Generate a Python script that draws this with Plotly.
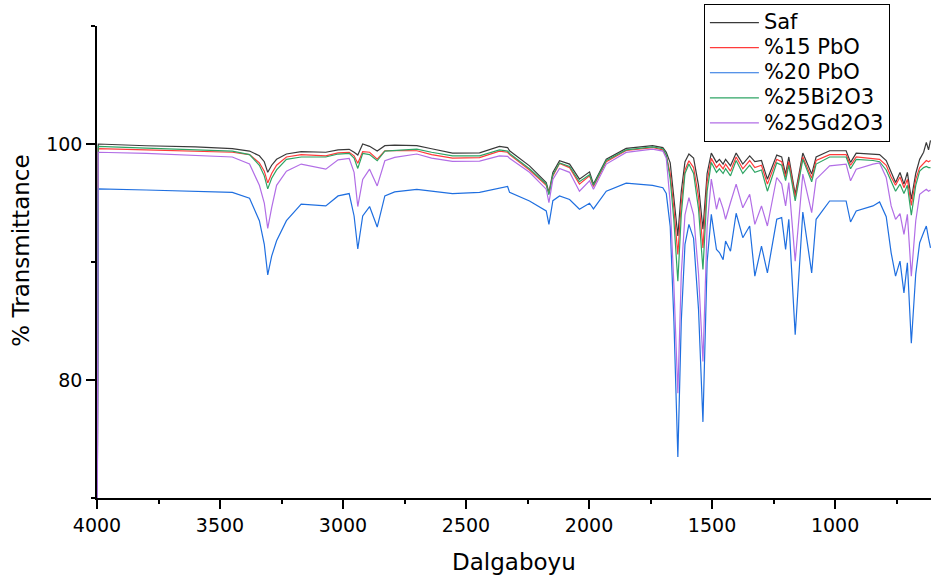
import plotly.graph_objects as go

wavenumber = [4000, 3995, 3800, 3600, 3450, 3380, 3340, 3320, 3306, 3290, 3270, 3230, 3170, 3070, 3020, 2975,
              2955, 2940, 2920, 2892, 2861, 2830, 2790, 2700, 2640, 2555, 2445, 2364, 2331, 2323,
              2242, 2174, 2163, 2147, 2120, 2079, 2039, 1998, 1982, 1930, 1849, 1742, 1700, 1686,
              1670, 1655, 1639, 1625, 1610, 1594, 1575, 1555, 1537, 1520, 1503, 1482, 1470, 1455,
              1445, 1425, 1402, 1375, 1347, 1326, 1299, 1275, 1237, 1217, 1201, 1188, 1162, 1131,
              1095, 1077, 1022, 955, 937, 914, 846, 819, 792, 772, 754, 736, 720, 706, 690, 672,
              656, 640, 629, 620, 612]

saf = [60, 100.0, 99.85, 99.75, 99.6, 99.4, 99.0, 98.5, 97.6, 98.2, 98.7, 99.15, 99.35, 99.3, 99.5, 99.55,
       99.3, 99.06, 100.0, 99.8, 99.4, 99.86, 99.9, 99.86, 99.6, 99.23, 99.25, 99.8, 99.7, 99.43,
       98.15, 96.74, 95.89, 97.59, 98.58, 98.3, 97.02, 97.64, 96.6, 98.72, 99.63, 99.86, 99.7, 99.3,
       98.4, 95.5, 92.2, 96.0, 98.5, 99.15, 98.8, 96.5, 92.77, 97.5, 99.23, 98.44, 98.7, 98.3,
       98.7, 98.15, 99.23, 98.3, 99.0, 98.5, 98.6, 97.02, 99.06, 98.9, 97.45, 98.9, 95.74, 99.23,
       97.45, 98.9, 99.43, 99.43, 98.44, 99.23, 99.1, 99.1, 98.6, 97.59, 96.74, 97.59, 96.6, 97.6, 95.32, 97.5,
       98.7, 99.3, 100.14, 99.5, 100.3]

pbo15 = [60, 99.6, 99.5, 99.4, 99.3, 99.1, 98.4, 97.7, 96.7, 97.5, 98.2, 98.9, 99.1, 99.0, 99.25, 99.3,
         99.0, 98.36, 99.35, 99.3, 98.72, 99.43, 99.45, 99.43, 99.1, 98.8, 98.85, 99.4, 99.3, 99.1,
         97.8, 96.5, 95.8, 97.3, 98.36, 98.0, 96.6, 97.3, 96.4, 98.5, 99.45, 99.7, 99.5, 99.0,
         97.5, 94.5, 90.64, 95.0, 97.8, 98.58, 98.0, 95.5, 91.2, 96.8, 98.78, 98.0, 98.3, 97.9,
         98.3, 97.7, 98.9, 97.9, 98.6, 98.0, 98.2, 96.6, 98.7, 98.5, 97.2, 98.5, 95.5, 98.9,
         97.1, 98.6, 99.1, 99.1, 98.2, 98.9, 98.8, 98.7, 98.2, 97.2, 96.5, 97.2, 96.3, 97.0, 94.8, 97.0,
         98.0, 98.4, 98.6, 98.5, 98.6]

pbo20 = [60, 96.2, 96.1, 96.0, 95.9, 95.4, 93.5, 91.5, 88.9, 90.5, 91.8, 93.5, 94.9, 94.75, 95.6, 95.8,
         93.9, 91.1, 93.9, 94.7, 92.96, 95.6, 95.94, 96.15, 96.0, 95.8, 95.9, 96.3, 96.4, 95.9,
         95.17, 94.33, 93.19, 95.2, 95.6, 95.3, 94.47, 94.98, 94.5, 96.0, 96.68, 96.5, 96.3, 95.8,
         93.0, 85.0, 73.47, 85.0, 91.5, 93.19, 92.0, 86.0, 76.45, 90.0, 94.04, 91.06, 90.8, 90.2,
         91.77, 90.92, 94.13, 92.06, 93.05, 88.8, 91.35, 89.08, 93.62, 93.76, 91.06, 93.62, 83.83, 94.24,
         89.08, 93.62, 95.17, 95.17, 93.39, 94.33, 94.75, 95.09, 93.84, 90.78, 88.8, 90.07, 87.38, 89.93, 83.12, 89.0,
         91.63, 92.5, 93.05, 92.0, 91.2]

bi2o3 = [60, 99.8, 99.65, 99.5, 99.4, 99.1, 98.2, 97.3, 96.2, 97.1, 97.8, 98.7, 98.9, 98.9, 99.15, 99.2,
         98.8, 97.93, 99.2, 99.1, 98.58, 99.4, 99.45, 99.57, 99.3, 99.0, 99.0, 99.5, 99.4, 99.2,
         97.9, 96.6, 95.7, 97.4, 98.4, 98.1, 96.8, 97.4, 96.5, 98.6, 99.5, 99.75, 99.6, 99.1,
         97.0, 93.5, 88.37, 94.0, 97.5, 98.3, 97.5, 94.5, 89.36, 96.0, 98.44, 97.6, 97.9, 97.5,
         97.9, 97.3, 98.6, 97.5, 98.2, 97.6, 97.8, 96.0, 98.4, 98.2, 96.9, 98.2, 95.17, 98.7,
         96.8, 98.3, 98.9, 98.9, 97.9, 98.7, 98.6, 98.5, 97.8, 96.8, 96.0, 96.6, 95.8, 96.5, 93.96, 96.5,
         97.7, 98.0, 98.1, 98.0, 98.0]

gd2o3 = [60, 99.3, 99.2, 99.0, 98.9, 98.3, 96.5, 95.0, 92.85, 94.6, 96.5, 97.7, 98.3, 97.87, 98.66, 98.78,
         97.6, 94.7, 97.0, 97.87, 96.45, 98.58, 98.87, 99.15, 98.8, 98.52, 98.55, 99.0, 98.95, 98.8,
         97.6, 96.17, 95.04, 97.0, 97.93, 97.6, 96.0, 96.88, 96.17, 98.3, 99.29, 99.57, 99.4, 98.8,
         95.0, 88.0, 78.87, 89.0, 94.0, 95.46, 94.0, 89.0, 81.56, 93.0, 97.02, 94.47, 95.46, 94.5,
         93.62, 95.04, 96.6, 94.6, 95.74, 93.19, 94.75, 93.05, 97.16, 96.6, 94.75, 96.74, 90.07, 97.45,
         94.19, 97.02, 98.15, 98.3, 96.88, 97.87, 98.3, 98.4, 97.16, 94.75, 93.62, 94.1, 92.34, 94.04, 88.8, 93.5,
         95.74, 96.0, 96.17, 96.0, 96.1]

series_names = ["Saf", "%15 PbO", "%20 PbO", "%25Bi2O3", "%25Gd2O3"]
series_values = [saf, pbo15, pbo20, bi2o3, gd2o3]
series_colors = ["#3a3a3a", "#ff3b3b", "#1f6fe0", "#2ea464", "#b26ee6"]

y_major_ticks = [80, 100]
y_minor_ticks = [70, 90, 110]
x_major_ticks = [4000, 3500, 3000, 2500, 2000, 1500, 1000]

FONT = "DejaVu Sans"

fig = go.Figure()
for name, vals, col in zip(series_names, series_values, series_colors):
    fig.add_trace(go.Scatter(x=wavenumber, y=vals, mode="lines",
                             name="<span style='font-size:21px'>" + name + "</span>",
                             line=dict(color=col, width=1.2)))

fig.update_layout(
    width=931, height=579,
    margin=dict(l=97, r=0, t=26, b=81),
    paper_bgcolor="white", plot_bgcolor="white",
    font=dict(family=FONT, color="black"),
    showlegend=True,
    legend=dict(x=0.7277, y=1.0466, xanchor="left", yanchor="top",
                bordercolor="black", borderwidth=1, bgcolor="white",
                font=dict(family=FONT, size=17, color="black"),
                tracegroupgap=0, itemwidth=49),
    annotations=[
        dict(text="% Transmittance", xref="paper", yref="paper", x=-0.0906, y=0.525,
             xanchor="center", yanchor="middle", textangle=-90, showarrow=False,
             font=dict(family=FONT, size=23, color="black")),
        dict(text="Dalgaboyu", xref="paper", yref="paper", x=0.5, y=-0.135,
             xanchor="center", yanchor="middle", showarrow=False,
             font=dict(family=FONT, size=23, color="black")),
    ],
)

fig.update_xaxes(range=[4000, 610], tickvals=x_major_ticks, ticks="outside", ticklen=9,
                 tickwidth=1.5, tickcolor="black", showline=True, linecolor="black", linewidth=1.5,
                 showgrid=False, zeroline=False, tickfont=dict(family=FONT, size=19, color="black"),
                 minor=dict(dtick=250, ticks="outside", ticklen=4, tickwidth=1.5, tickcolor="black",
                            showgrid=False))
fig.update_yaxes(range=[70, 110], tickvals=y_major_ticks, ticks="outside", ticklen=9,
                 tickwidth=1.5, tickcolor="black", showline=True, linecolor="black", linewidth=1.5,
                 showgrid=False, zeroline=False, tickfont=dict(family=FONT, size=19, color="black"),
                 minor=dict(tickvals=y_minor_ticks, ticks="outside", ticklen=4, tickwidth=1.5,
                            tickcolor="black", showgrid=False))

fig.write_html("out.html", config={"displayModeBar": False},
               post_script="document.body.style.margin='0';document.body.style.overflow='hidden';")
